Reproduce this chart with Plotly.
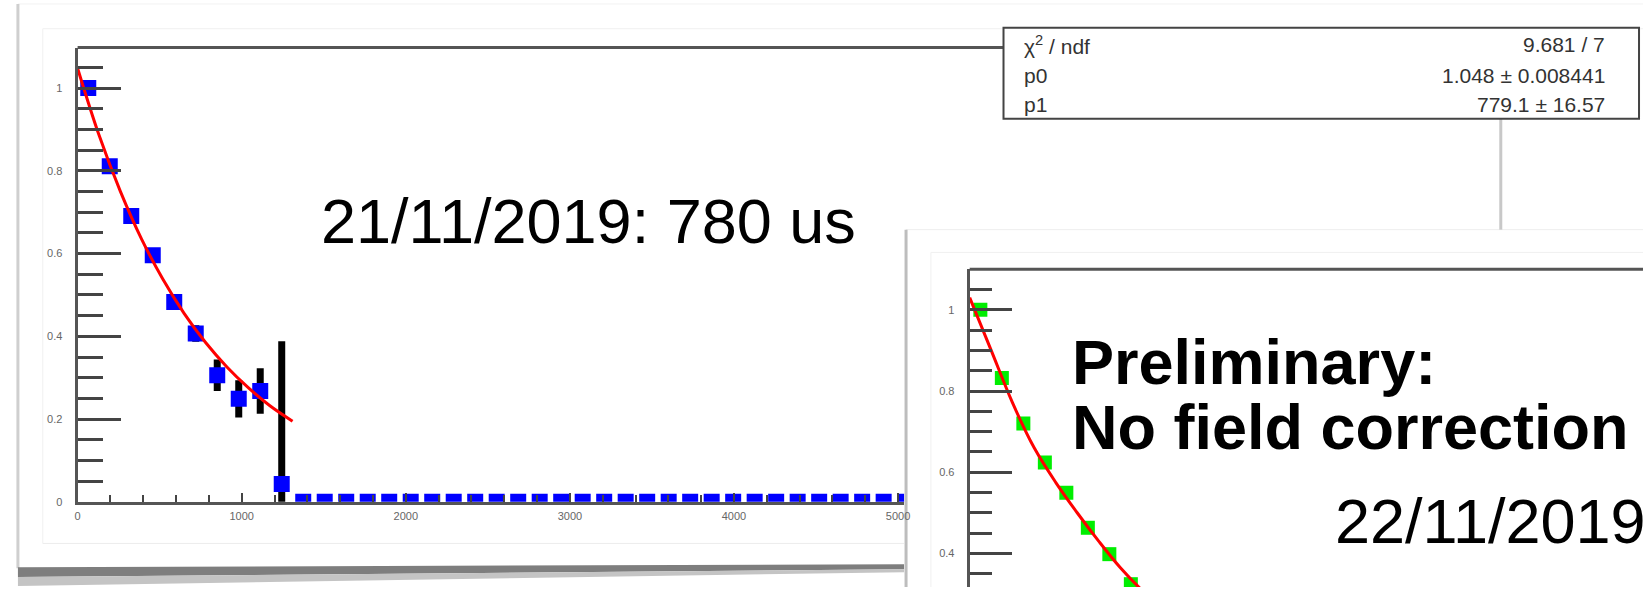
import plotly.graph_objects as go

W, H = 1649, 593

# ---------------- data: 21/11/2019 histogram (blue) ----------------
main_time = [65, 196, 327, 458, 589, 720, 851, 982, 1113, 1244,
             1375, 1506, 1637, 1768, 1899, 2030, 2161, 2292, 2423, 2554,
             2685, 2816, 2947, 3078, 3209, 3340, 3471, 3602, 3733, 3864,
             3995, 4126, 4257, 4388, 4519, 4650, 4781, 4912, 5043]
main_value = [1.0, 0.811, 0.691, 0.596, 0.483, 0.407, 0.306, 0.249, 0.268, 0.043,
              0, 0, 0, 0, 0, 0, 0, 0, 0, 0,
              0, 0, 0, 0, 0, 0, 0, 0, 0, 0,
              0, 0, 0, 0, 0, 0, 0, 0, 0]
main_error = [0.008, 0.010, 0.012, 0.014, 0.016, 0.020, 0.038, 0.045, 0.055, 0.345,
              0, 0, 0, 0, 0, 0, 0, 0, 0, 0,
              0, 0, 0, 0, 0, 0, 0, 0, 0, 0,
              0, 0, 0, 0, 0, 0, 0, 0, 0]

# fit curve (red)
fit_time = [0, 130, 260, 390, 520, 650, 780, 910, 1040, 1170, 1310]
fit_value = [1.048, 0.887, 0.751, 0.635, 0.538, 0.455, 0.385, 0.326, 0.276, 0.233, 0.195]

# ---------------- data: 22/11/2019 histogram (green, inset) ----------------
inset_time = [65, 196, 327, 458, 589, 720, 851, 982, 1113]
inset_value = [1.0, 0.832, 0.72, 0.624, 0.549, 0.463, 0.398, 0.324, 0.28]
inset_fit_time = [0, 131, 262, 393, 524, 655, 786, 917, 1048, 1180]
inset_fit_value = [1.03, 0.90, 0.77, 0.66, 0.575, 0.50, 0.43, 0.365, 0.31, 0.265]

# ---------------- text ----------------
y_tick_vals = [0, 0.2, 0.4, 0.6, 0.8, 1.0]
y_tick_text = ["0", "0.2", "0.4", "0.6", "0.8", "1"]
x_tick_vals = [0, 1000, 2000, 3000, 4000, 5000]
x_tick_text = ["0", "1000", "2000", "3000", "4000", "5000"]
inset_tick_vals = [0.4, 0.6, 0.8, 1.0]
inset_tick_text = ["0.4", "0.6", "0.8", "1"]
stat_labels = ["χ<sup>2</sup> / ndf", "p0", "p1"]
stat_values = ["9.681 / 7", "1.048 ± 0.008441", "779.1 ± 16.57"]
title_main = "21/11/2019: 780 us"
title_inset = "22/11/2019"
prelim_lines = ["Preliminary:", "No field correction"]


def px(x):
    return x / W


def py(y):
    return 1 - y / H


FRAME = "#555555"
TICKFONT = dict(family="Liberation Sans, Arial, sans-serif", size=11, color="#666666")
BIGFONT = "Liberation Sans, Arial, Helvetica, sans-serif"

fig = go.Figure()

# main plot traces
fig.add_trace(go.Scatter(
    x=main_time, y=main_value, mode="markers",
    marker=dict(symbol="square", size=16, color="#0000ff", line=dict(width=0)),
    error_y=dict(type="data", array=main_error, color="black", thickness=7, width=0),
    xaxis="x", yaxis="y", showlegend=False))
fig.add_trace(go.Scatter(
    x=fit_time, y=fit_value, mode="lines", line=dict(color="#ff0000", width=3, shape="spline"),
    xaxis="x", yaxis="y", hoverinfo="skip", showlegend=False))

# inset traces
fig.add_trace(go.Scatter(
    x=inset_time, y=inset_value, mode="markers",
    marker=dict(symbol="square", size=14, color="#00ee00", line=dict(width=0)),
    xaxis="x2", yaxis="y2", showlegend=False))
fig.add_trace(go.Scatter(
    x=inset_fit_time, y=inset_fit_value, mode="lines",
    line=dict(color="#ff0000", width=3, shape="spline"),
    xaxis="x2", yaxis="y2", hoverinfo="skip", showlegend=False))

# geometry (pixels)
main_left, main_right, main_top, main_bottom = 75, 906, 48, 507
main_xmax = (main_right - main_left) / 0.165
main_ymax = (main_bottom - main_top) / 418
in_left, in_top = 972, 272
in_xmax = (W - in_left) / 0.165
in_y1 = 313
in_ymin = 1 - (H - in_y1) / 410
in_ymax = 1 + (in_y1 - in_top) / 410

axis_common = dict(showgrid=False, zeroline=False, showline=True, linecolor=FRAME, linewidth=3,
                   ticks="inside", tickcolor="#444444", tickfont=TICKFONT)

fig.update_layout(
    width=W, height=H, margin=dict(l=0, r=0, t=0, b=0),
    paper_bgcolor="white", plot_bgcolor="rgba(0,0,0,0)",
    xaxis=dict(domain=[px(main_left), px(main_right)], range=[0, main_xmax], anchor="y",
               tickvals=x_tick_vals, ticktext=x_tick_text, ticklen=9, tickwidth=1.5,
               minor=dict(ticks="inside", dtick=200, ticklen=7, tickwidth=1.5, tickcolor="#444444"),
               ticklabelstandoff=2, **axis_common),
    yaxis=dict(domain=[py(main_bottom), py(main_top)], range=[0, main_ymax], anchor="x",
               tickvals=y_tick_vals, ticktext=y_tick_text, ticklen=43, tickwidth=2.5,
               minor=dict(ticks="inside", dtick=0.05, ticklen=25, tickwidth=3, tickcolor="#444444"),
               ticklabelstandoff=10, **axis_common),
    xaxis2=dict(domain=[px(in_left), 1], range=[0, in_xmax], anchor="y2",
                showgrid=False, zeroline=False, showline=False, showticklabels=False, ticks=""),
    yaxis2=dict(domain=[0, py(in_top)], range=[in_ymin, in_ymax], anchor="x2",
                tickvals=inset_tick_vals, ticktext=inset_tick_text,
                ticklen=42, tickwidth=2.5,
                minor=dict(ticks="inside", dtick=0.05, ticklen=22, tickwidth=3, tickcolor="#444444"),
                ticklabelstandoff=10, **axis_common),
)

shapes = []


def rect(x0, y0, x1, y1, fill=None, line=None, width=0, layer="below"):
    return dict(type="rect", xref="paper", yref="paper", x0=px(x0), x1=px(x1), y0=py(y1), y1=py(y0),
                fillcolor=fill if fill else "rgba(0,0,0,0)",
                line=dict(color=line if line else "rgba(0,0,0,0)", width=width), layer=layer)


def seg(x0, y0, x1, y1, color, width, layer="below"):
    return dict(type="line", xref="paper", yref="paper", x0=px(x0), x1=px(x1), y0=py(y0), y1=py(y1),
                line=dict(color=color, width=width), layer=layer)


def poly(points, fill, layer="below"):
    d = "M " + " L ".join(f"{px(a):.5f},{py(b):.5f}" for a, b in points) + " Z"
    return dict(type="path", xref="paper", yref="paper", path=d, fillcolor=fill,
                line=dict(width=0), layer=layer)


# main slide card
shapes.append(seg(15, 4, W, 4, "#f2f2f2", 1))
shapes.append(seg(15, 4, 15, 574, "#cfcfcf", 3))
shapes.append(seg(40, 29, W, 29, "#f0f0f0", 1))
shapes.append(seg(40, 29, 40, 549, "#f0f0f0", 1))
shapes.append(seg(40, 549, 906, 549, "#ececec", 1))
# bottom page shadow
shapes.append(poly([(15, 573), (906, 570), (906, 575), (15, 583)], "#7e7e7e"))
shapes.append(poly([(15, 583), (906, 575), (906, 578), (15, 592)], "#c4c4c4"))
# inset slide card
shapes.append(rect(908, 232, W + 5, H + 5, fill="white"))
shapes.append(seg(908, 232, W, 232, "#eeeeee", 1))
shapes.append(seg(908, 232, 908, H, "#bdbdbd", 3))
shapes.append(seg(933, 255, W, 255, "#f0f0f0", 1))
shapes.append(seg(933, 255, 933, H, "#f0f0f0", 1))
# main frame top & right edge
shapes.append(seg(main_left, main_top, 1006, main_top, FRAME, 3, layer="above"))
shapes.append(seg(1506, 120, 1506, 232, "#c8c8c8", 3))
# inset frame top
shapes.append(seg(in_left, in_top, W, in_top, FRAME, 3, layer="above"))
# stat box
shapes.append(rect(1006, 28, 1645, 120, fill="white", line="#444444", width=2, layer="above"))

fig.update_layout(shapes=shapes)

ann = []
STATFONT = dict(family="Liberation Sans, Arial, sans-serif", size=21, color="#333333")
row_y = [45, 76, 106]
for lab, val, yy in zip(stat_labels, stat_values, row_y):
    ann.append(dict(xref="paper", yref="paper", x=px(1025), y=py(yy), text=lab, showarrow=False,
                    xanchor="left", yanchor="middle", font=STATFONT))
    ann.append(dict(xref="paper", yref="paper", x=px(1613), y=py(yy), text=val, showarrow=False,
                    xanchor="right", yanchor="middle", font=STATFONT))

ann.append(dict(xref="paper", yref="paper", x=px(318), y=py(223), text=title_main, showarrow=False,
                xanchor="left", yanchor="middle", font=dict(family=BIGFONT, size=63, color="black")))
ann.append(dict(xref="paper", yref="paper", x=px(1073), y=py(366), text=prelim_lines[0], showarrow=False,
                xanchor="left", yanchor="middle",
                font=dict(family=BIGFONT, size=63, color="black", weight="bold")))
ann.append(dict(xref="paper", yref="paper", x=px(1073), y=py(431), text=prelim_lines[1], showarrow=False,
                xanchor="left", yanchor="middle",
                font=dict(family=BIGFONT, size=63, color="black", weight="bold")))
ann.append(dict(xref="paper", yref="paper", x=px(1337), y=py(526), text=title_inset, showarrow=False,
                xanchor="left", yanchor="middle", font=dict(family=BIGFONT, size=63, color="black")))
fig.update_layout(annotations=ann)

fig.write_html("out.html", config={"displayModeBar": False},
               post_script="document.body.style.margin='0';document.body.style.overflow='hidden';")
